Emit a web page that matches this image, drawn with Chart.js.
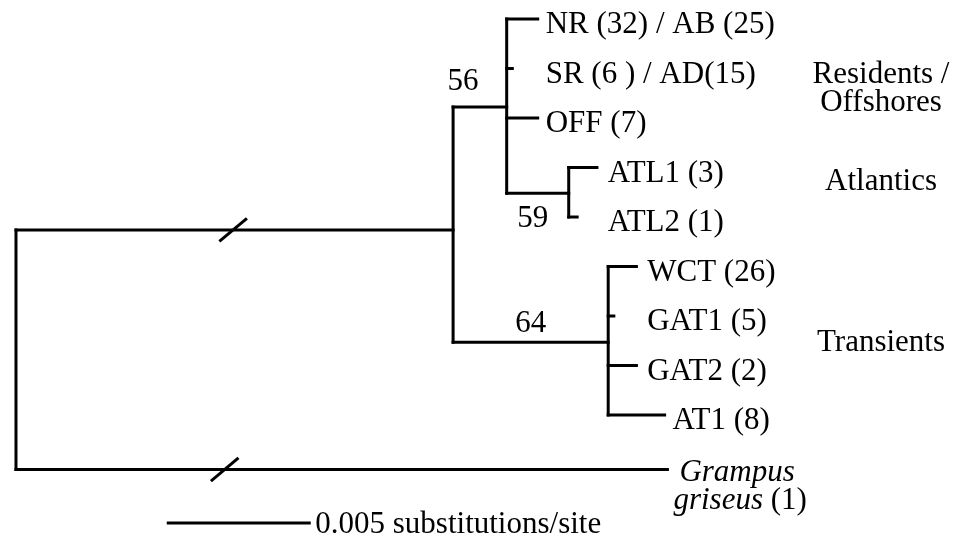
<!DOCTYPE html>
<html>
<head>
<meta charset="utf-8">
<script src="https://cdn.jsdelivr.net/npm/chart.js@4.4.1/dist/chart.umd.min.js"></script>
<style>
  html, body { margin: 0; padding: 0; background: #fff; }
  #wrap { width: 956px; height: 536px; position: relative; }
</style>
</head>
<body>
<div id="wrap"><canvas id="tree"></canvas></div>
<script>
// tree topology + branch lengths (substitutions/site)
const nodeIds      = ['root', 'n56', 'res', 'atl', 'tra', 'NR', 'SR', 'OFF', 'ATL1', 'ATL2', 'WCT', 'GAT1', 'GAT2', 'AT1', 'Gg']
const nodeParent   = [null, 'root', 'n56', 'res', 'n56', 'res', 'res', 'res', 'atl', 'atl', 'tra', 'tra', 'tra', 'tra', 'root']
const branchLength = [0, 0.0155, 0.0019, 0.0022, 0.0055, 0.0011, 0.0002, 0.0011, 0.0010, 0.0003, 0.0010, 0.0002, 0.0010, 0.0020, 0.0231]
const nodeRow      = [null, 4.26, 1.78, 3.52, 6.53, 0, 1, 2, 3, 4, 5, 6, 7, 8, 9.1]

const tipIds    = ['NR', 'SR', 'OFF', 'ATL1', 'ATL2', 'WCT', 'GAT1', 'GAT2', 'AT1']
const tipLabels = ['NR (32) / AB (25)', 'SR (6 ) / AD(15)', 'OFF (7)', 'ATL1 (3)', 'ATL2 (1)', 'WCT (26)', 'GAT1 (5)', 'GAT2 (2)', 'AT1 (8)']

const bootstrapNodes  = ['res', 'atl', 'tra']
const bootstrapValues = [56, 59, 64]

const brokenBranches = ['n56', 'Gg']
const breakAt        = [0.0077, 0.0074]

const groupNames = [['Residents /', 'Offshores'], ['Atlantics'], ['Transients']]
const groupRows  = [1.37, 3.25, 6.5]

const scaleBarLength = 0.005
const scaleBarStart  = 0.0054
const scaleBarRow    = 10.18

document.addEventListener('DOMContentLoaded', () => {
  const idx = (id) => nodeIds.indexOf(id)

  // cumulative distance from root
  const depth = (id) => {
    const i = idx(id)
    if (!nodeParent[i]) return 0
    return depth(nodeParent[i]) + branchLength[i]
  }

  const children = (id) => nodeIds.filter((_, i) => nodeParent[i] === id)

  const lineStyle = {
    showLine: true,
    borderColor: '#000',
    borderWidth: 3,
    borderCapStyle: 'square',
    pointRadius: 0,
    pointHoverRadius: 0,
  }

  const datasets = []

  // vertical bar of each internal node
  nodeIds.forEach((id) => {
    const kids = children(id)
    if (!kids.length) return
    const rows = kids.map((k) => nodeRow[idx(k)])
    const x = depth(id)
    datasets.push({ ...lineStyle, data: [{ x, y: Math.min(...rows) }, { x, y: Math.max(...rows) }] })
  })

  // horizontal branch from parent to node
  nodeIds.forEach((id, i) => {
    if (!nodeParent[i]) return
    const y = nodeRow[i]
    datasets.push({ ...lineStyle, data: [{ x: depth(nodeParent[i]), y }, { x: depth(id), y }] })
  })

  // scale bar
  datasets.push({ ...lineStyle, data: [{ x: scaleBarStart, y: scaleBarRow }, { x: scaleBarStart + scaleBarLength, y: scaleBarRow }] })

  // break marks on the long branches
  datasets.push({
    showLine: false,
    data: brokenBranches.map((id, i) => ({ x: breakAt[i], y: nodeRow[idx(id)] })),
    pointStyle: 'line',
    rotation: -40,
    pointRadius: 18,
    pointHoverRadius: 18,
    pointBorderWidth: 3,
    pointBorderColor: '#000',
  })

  const FONT = '"Liberation Serif", "Times New Roman", serif'
  const SIZE = 31

  const treeText = {
    id: 'treeText',
    afterDatasetsDraw(chart) {
      const { ctx, scales: { x, y } } = chart
      ctx.save()
      ctx.fillStyle = '#000'
      ctx.textBaseline = 'alphabetic'
      ctx.font = `${SIZE}px ${FONT}`

      // tip labels
      tipIds.forEach((id, i) => {
        const n = idx(id)
        const tipPx = x.getPixelForValue(depth(id))
        const parentPx = x.getPixelForValue(depth(nodeParent[n]))
        const lx = Math.max(tipPx, parentPx + 31) + 8
        ctx.textAlign = 'left'
        ctx.fillText(tipLabels[i], lx, y.getPixelForValue(nodeRow[n]) + 14)
      })

      // outgroup, italic species name
      const g = idx('Gg')
      const gx = x.getPixelForValue(depth('Gg')) + 12
      const gy = y.getPixelForValue(nodeRow[g])
      ctx.textAlign = 'left'
      ctx.font = `italic ${SIZE}px ${FONT}`
      ctx.fillText('Grampus', gx, gy + 12)
      ctx.fillText('griseus', gx - 6, gy + 40)
      const w = ctx.measureText('griseus').width
      ctx.font = `${SIZE}px ${FONT}`
      ctx.fillText(' (1)', gx - 6 + w, gy + 40)

      // bootstrap values
      const place = { res: [10, -17], atl: [-36, 34], tra: [null, -10] }
      bootstrapNodes.forEach((id, i) => {
        const n = idx(id)
        const px0 = x.getPixelForValue(depth(nodeParent[n]))
        const px1 = x.getPixelForValue(depth(id))
        const [dx, dy] = place[id]
        const cx = dx === null ? (px0 + px1) / 2 : (dx > 0 ? px0 + dx : px1 + dx)
        ctx.textAlign = 'center'
        ctx.fillText(String(bootstrapValues[i]), cx, y.getPixelForValue(nodeRow[n]) + dy)
      })

      // clade names
      const groupX = chart.chartArea.left + 881
      groupNames.forEach((lines, i) => {
        const cy = y.getPixelForValue(groupRows[i])
        const top = cy - (lines.length - 1) * 14
        ctx.textAlign = 'center'
        lines.forEach((t, k) => ctx.fillText(t, groupX, top + k * 28 + 10))
      })

      // scale bar label
      ctx.textAlign = 'left'
      ctx.fillText(scaleBarLength + ' substitutions/site',
        x.getPixelForValue(scaleBarStart + scaleBarLength) + 6,
        y.getPixelForValue(scaleBarRow) + 10)

      ctx.restore()
    }
  }

  new Chart(document.getElementById('tree'), {
    type: 'scatter',
    data: { datasets },
    options: {
      responsive: true,
      maintainAspectRatio: false,
      animation: false,
      events: [],
      layout: { padding: 0, autoPadding: false },
      plugins: { legend: { display: false }, tooltip: { enabled: false } },
      scales: {
        x: { type: 'linear', display: false, min: -0.000567, max: 0.033333 },
        y: { type: 'linear', display: false, reverse: true, min: -0.3838, max: 10.444 },
      },
    },
    plugins: [treeText],
  })
})
</script>
</body>
</html>
